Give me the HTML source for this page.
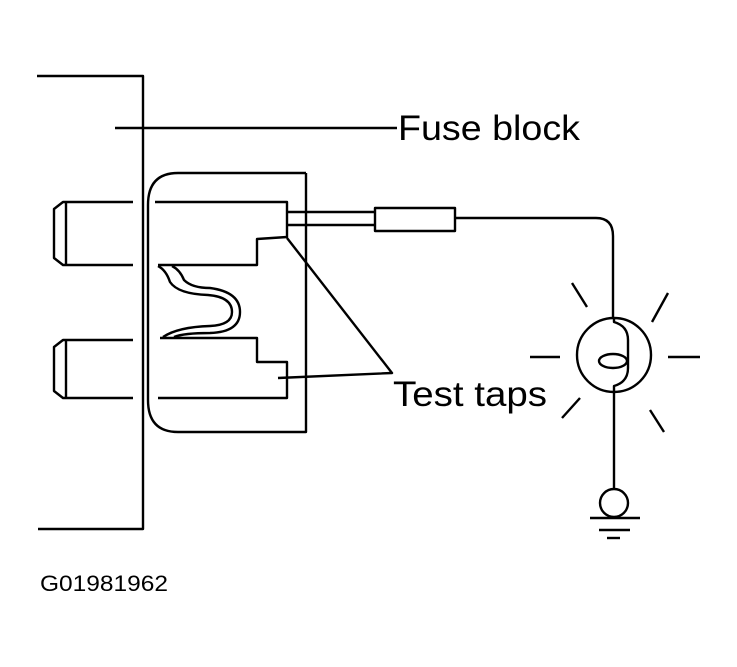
<!DOCTYPE html>
<html><head><style>
html,body{margin:0;padding:0;background:#fff;}
svg{display:block;}
text{font-family:"Liberation Sans",Arial,sans-serif;fill:#000;}
</style></head><body>
<svg width="737" height="667" viewBox="0 0 737 667" xmlns="http://www.w3.org/2000/svg">
<g fill="none" stroke="#000" stroke-width="2.4" stroke-linejoin="round">
<polyline points="37,76 143,76 143,529 38,529"/>
<line x1="115" y1="128" x2="397" y2="128"/>
<path d="M306,173 L178,173 Q148,173 148,205 L148,400 Q148,432 178,432 L306,432 L306,173"/>
<path d="M133,202 L63,202 L54,209 L54,258 L63,265 L133,265"/>
<line x1="66" y1="203" x2="66" y2="264"/>
<path d="M133,340 L63,340 L54,347 L54,391 L63,398 L133,398"/>
<line x1="66" y1="341" x2="66" y2="397"/>
<polyline points="155,202 287,202 287,237 257,239 257,265 158,265"/>
<polyline points="160,338 257,338 257,362 287,362 287,398 158,398"/>
<path d="M158,266 Q166,270 170,282 Q178,294 208,295 Q232,297 232,312 Q232,325 210,326 Q178,327 163,337"/>
<path d="M172,266 Q180,270 184,280 Q192,288 210,288 Q240,292 240,312 Q240,332 210,333 Q184,333 174,337"/>
<line x1="287" y1="212" x2="375" y2="212"/>
<line x1="287" y1="225" x2="375" y2="225"/>
<rect x="375" y="208" width="80" height="23"/>
<path d="M455,218 L596,218 Q613,218 613,236 L613,318"/>
<polyline points="287,238 392,373 278,378"/>
<circle cx="614" cy="355" r="37"/>
<path d="M614,318 L614,322 Q628,326 628,340 L628,368 Q628,382 614,386 L614,392"/>
<ellipse cx="613" cy="361" rx="14" ry="7"/>
<line x1="614" y1="392" x2="614" y2="488"/>
<circle cx="614" cy="503" r="14"/>
<line x1="590" y1="518" x2="640" y2="518"/>
<line x1="599" y1="530" x2="630" y2="530"/>
<line x1="607" y1="538" x2="620" y2="538"/>
<line x1="530" y1="357" x2="560" y2="357"/>
<line x1="668" y1="357" x2="700" y2="357"/>
<line x1="572" y1="283" x2="587" y2="307"/>
<line x1="668" y1="293" x2="652" y2="322"/>
<line x1="562" y1="418" x2="580" y2="398"/>
<line x1="650" y1="410" x2="664" y2="432"/>
</g>
<text x="398" y="140" font-size="35" textLength="182" lengthAdjust="spacingAndGlyphs">Fuse block</text>
<text x="393" y="406" font-size="35" textLength="154" lengthAdjust="spacingAndGlyphs">Test taps</text>
<text x="40" y="591" font-size="22" textLength="128" lengthAdjust="spacingAndGlyphs">G01981962</text>
</svg>
</body></html>
